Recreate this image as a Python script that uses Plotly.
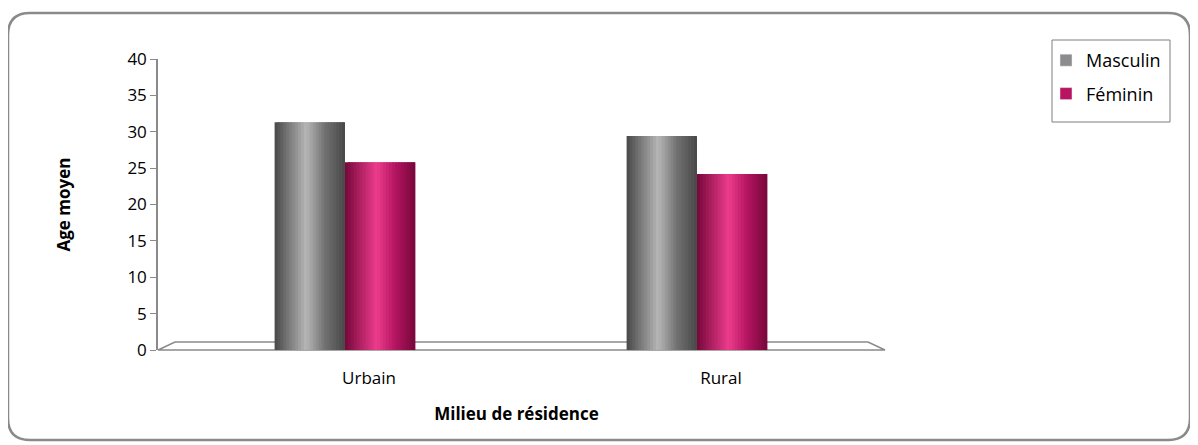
import plotly.graph_objects as go

categories = ["Urbain", "Rural"]
masculin = [31.3, 29.4]
feminin = [25.8, 24.2]
series_names = ["Masculin", "Féminin"]
y_ticks = [0, 5, 10, 15, 20, 25, 30, 35, 40]

# page body has an 8px margin: work in reference pixels, shift by S
S = 8
W, H = 1198 - S, 445 - S
L, R, T, B = 158 - S, 875 - S, 59 - S, 350 - S

def px_x(p):
    return (p - S - L) / (R - L)

def px_y(p):
    return (B - (p - S)) / (B - T)

def lerp(c1, c2, t):
    return "rgb(%d,%d,%d)" % tuple(round(a + (b - a) * t) for a, b in zip(c1, c2))

def cyl_colors(dark, mid, light, n):
    cols = []
    for i in range(n):
        f = (i + 0.5) / n
        if f < 0.45:
            c = lerp(dark, light, f / 0.45)
        elif f < 0.72:
            c = lerp(light, mid, (f - 0.45) / 0.27)
        else:
            c = lerp(mid, dark, (f - 0.72) / 0.28)
        cols.append(c)
    return cols

bar_w = 0.2
n_slices = 24
fig = go.Figure()

specs = [
    (series_names[0], masculin, -bar_w, ((72, 72, 72), (112, 112, 112), (182, 182, 182)), "#8c8c8c"),
    (series_names[1], feminin, 0.0, ((118, 8, 58), (178, 20, 95), (236, 60, 140)), "#b8145f"),
]
for name, vals, off0, (dark, mid, light), legcol in specs:
    cols = cyl_colors(dark, mid, light, n_slices)
    sw = bar_w / n_slices
    for i, c in enumerate(cols):
        w = min(sw * 1.8, bar_w - i * sw)
        fig.add_trace(go.Bar(
            x=categories, y=vals, name=name,
            width=[w] * len(categories),
            offset=[off0 + i * sw] * len(categories),
            marker=dict(color=c, line=dict(width=0)),
            showlegend=False, hoverinfo="skip",
        ))
    fig.add_trace(go.Bar(x=[categories[0]], y=[None], name=name, legendgroup=name,
                         marker=dict(color=legcol), showlegend=True))

shapes = []
# 3D floor
shapes.append(dict(type="path", xref="paper", yref="paper",
                   path="M %f,%f L %f,%f L %f,%f L %f,%f Z" % (
                       px_x(158), px_y(350), px_x(175), px_y(342),
                       px_x(868), px_y(342), px_x(885), px_y(350)),
                   line=dict(color="#8a8a8a", width=1.5), fillcolor="rgba(0,0,0,0)", layer="below"))
# outer rounded border
x0, x1, y0, y1, r = 8, 1190, 13, 440, 22
def P(x, y):
    return "%f,%f" % (px_x(x), px_y(y))
path = ("M " + P(x0 + r, y0) + " L " + P(x1 - r, y0) + " Q " + P(x1, y0) + " " + P(x1, y0 + r) +
        " L " + P(x1, y1 - r) + " Q " + P(x1, y1) + " " + P(x1 - r, y1) +
        " L " + P(x0 + r, y1) + " Q " + P(x0, y1) + " " + P(x0, y1 - r) +
        " L " + P(x0, y0 + r) + " Q " + P(x0, y0) + " " + P(x0 + r, y0) + " Z")
shapes.append(dict(type="path", xref="paper", yref="paper", path=path,
                   line=dict(color="#8a8a8a", width=2.5), fillcolor="rgba(0,0,0,0)"))
# legend frame
shapes.append(dict(type="rect", xref="paper", yref="paper",
                   x0=px_x(1052), x1=px_x(1170), y0=px_y(122), y1=px_y(40),
                   line=dict(color="#7f7f7f", width=1), fillcolor="rgba(0,0,0,0)"))

# x category axis: 352 px per category, first category centred at x=345
cat_px = 352.0
x_range = [-(345 - 158) / cat_px, (875 - 158) / cat_px - (345 - 158) / cat_px]

font_family = "'Open Sans', 'Noto Sans', sans-serif"
fig.update_layout(
    width=W, height=H,
    margin=dict(l=L, r=W - R, t=T, b=H - B, pad=0),
    paper_bgcolor="white", plot_bgcolor="white",
    barmode="overlay",
    font=dict(family=font_family, size=17, color="#000"),
    shapes=shapes,
    showlegend=True,
    legend=dict(xref="container", yref="container", x=(1046 - S) / W, y=1 - (42 - S) / H,
                xanchor="left", yanchor="top", borderwidth=0,
                bgcolor="rgba(0,0,0,0)", font=dict(size=18, family=font_family),
                itemwidth=30, tracegroupgap=7),
    xaxis=dict(type="category", range=x_range, showline=False, showgrid=False, ticks="",
               tickfont=dict(size=17), ticklabelstandoff=16, ticklabelshift=24,
               title=dict(text="<b>Milieu de résidence</b>", font=dict(size=17), standoff=20)),
    yaxis=dict(range=[0, 40], tickvals=y_ticks, showgrid=False, showline=True,
               linecolor="#8a8a8a", linewidth=1.5, ticks="outside", ticklen=6,
               tickcolor="#8a8a8a", tickfont=dict(size=17), zeroline=False,
               title=dict(text="<b>Age moyen</b>", font=dict(size=17), standoff=52)),
)

fig.write_html("out.html")
